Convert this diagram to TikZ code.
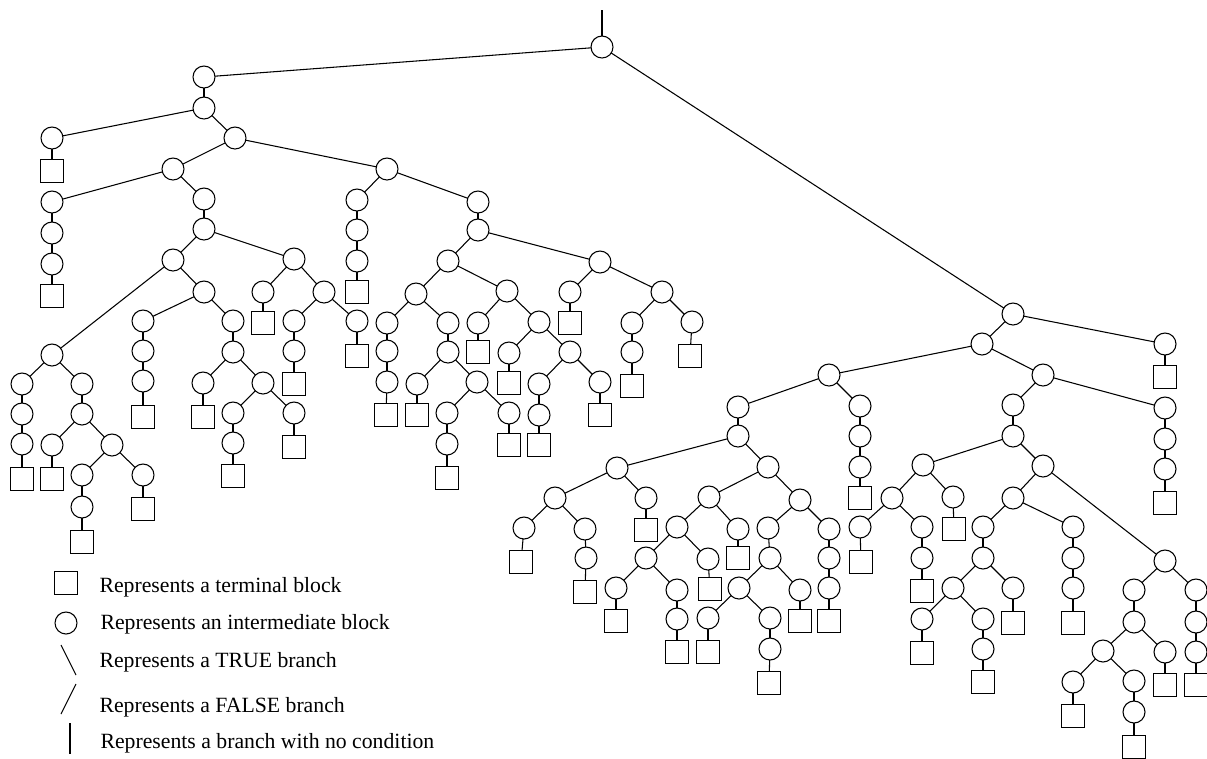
\documentclass[tikz,border=0pt]{standalone}
\usepackage{fontspec}
\setmainfont{Liberation Serif}
\usepackage{tikz}
\usetikzlibrary{positioning}

\begin{document}
\begin{tikzpicture}[
    x=0.75pt, y=-0.75pt,
    line width=0.8pt,
    inter/.style={circle, draw, minimum size=16.5pt, inner sep=0pt, outer sep=0pt},
    termbox/.style={rectangle, draw, minimum size=17.25pt, inner sep=0pt, outer sep=0pt},
    legendtext/.style={anchor=base west, inner sep=0pt, font=\fontsize{16.3pt}{19pt}\selectfont}
]
    \useasboundingbox (0,0) rectangle (1207,758);

    % Intermediate blocks (circles)
    \foreach \n/\x/\y in {
        b1/602/47, b2/204/77, b3/204/108, b4/52/138, b5/235/138, b6/173/169, b7/387/169,
        b8/52/202, b9/52/233, b10/52/264, b11/204/199, b12/204/229, b13/173/260, b14/294/259,
        b15/52/355, b16/204/292, b17/143/321, b18/143/351, b19/143/381, b20/233/321, b21/233/352,
        b22/203/383, b23/263/383, b24/233/413, b25/233/443, b26/294/413, b27/263/292, b28/324/292,
        b29/294/321, b30/294/351, b31/357/321, b32/22/384, b33/22/414, b34/22/444, b35/82/384,
        b36/82/414, b37/52/445, b38/112/445, b39/82/475, b40/82/507, b41/143/475,
        b42/357/200, b43/357/230, b44/357/261, b45/478/202, b46/478/230, b47/448/261, b48/600/262,
        b49/416/294, b50/507/291, b51/387/323, b52/387/351, b53/387/382, b54/448/323, b55/448/352,
        b56/417/384, b57/477/382, b58/447/413, b59/447/444, b60/509/413, b61/478/323, b62/539/322,
        b63/509/353, b64/570/352, b65/539/384, b66/539/415, b67/600/382, b68/570/292, b69/662/292,
        b70/632/323, b71/632/352, b72/692/322,
        b73/1013/314, b74/982/344, b75/1165/344, b76/829/375, b77/1043/375, b78/738/407,
        b79/860/406, b80/860/436, b81/860/467, b82/738/436, b83/617/468, b84/768/467, b85/555/498,
        b86/646/498, b87/524/528, b88/585/529, b89/586/558, b90/709/497, b91/800/500, b92/677/527,
        b93/738/529, b94/646/558, b95/708/559, b96/616/588, b97/677/590, b98/677/619, b99/768/528,
        b100/770/558, b101/739/588, b102/800/590, b103/708/618, b104/770/618, b105/770/649,
        b106/829/529, b107/829/558, b108/829/588, b109/1013/405, b110/1165/408, b111/1165/439,
        b112/1165/469, b113/1013/436, b114/923/465, b115/1043/466, b116/892/498, b117/953/497,
        b118/860/527, b119/922/527, b120/922/558, b121/1013/498, b122/1165/561, b123/983/527,
        b124/1073/527, b125/1073/558, b126/1073/588, b127/983/558, b128/953/588, b129/1013/588,
        b130/922/619, b131/983/619, b132/983/649, b133/1134/590, b134/1196/590, b135/1196/622,
        b136/1196/652, b137/1134/622, b138/1103/651, b139/1165/652, b140/1073/682, b141/1134/681,
        b142/1134/712}
        \node[inter] (\n) at (\x,\y) {};

    % Terminal blocks (squares)
    \foreach \n/\x/\y in {
        t1/52/171, t2/52/296, t3/143/417, t4/203/417, t5/233/476, t6/294/447, t7/263/323,
        t8/294/384, t9/357/356, t10/22/479, t11/52/479, t12/82/542, t13/143/509, t14/357/292,
        t15/386/415, t16/417/415, t17/447/478, t18/509/445, t19/478/352, t20/509/383, t21/539/445,
        t22/600/415, t23/570/323, t24/632/386, t25/690/356,
        t26/1165/377, t27/860/498, t28/646/530, t29/521/562, t30/585/592, t31/738/558, t32/710/589,
        t33/616/621, t34/677/652, t35/800/621, t36/708/652, t37/769/683, t38/829/621, t39/1165/503,
        t40/954/529, t41/861/562, t42/922/591, t43/1073/623, t44/1013/623, t45/922/653, t46/983/682,
        t47/1196/685, t48/1165/685, t49/1073/716, t50/1134/747}
        \node[termbox] (\n) at (\x,\y) {};

    % Entry branch
    \coordinate (entry) at (602,10);
    \draw (entry) -- (b1);

    % Branches
    \foreach \a/\b in {
        b1/b2, b1/b73, b2/b3, b3/b4, b4/t1, b3/b5, b5/b6, b5/b7,
        b6/b8, b8/b9, b9/b10, b10/t2, b6/b11, b11/b12, b12/b13, b12/b14,
        b13/b15, b13/b16, b16/b17, b17/b18, b18/b19, b19/t3, b16/b20, b20/b21, b21/b22, b22/t4,
        b21/b23, b23/b24, b24/b25, b25/t5, b23/b26, b26/t6,
        b14/b27, b27/t7, b14/b28, b28/b29, b29/b30, b30/t8, b28/b31, b31/t9,
        b15/b32, b32/b33, b33/b34, b34/t10, b15/b35, b35/b36, b36/b37, b37/t11, b36/b38,
        b38/b39, b39/b40, b40/t12, b38/b41, b41/t13,
        b7/b42, b42/b43, b43/b44, b44/t14, b7/b45, b45/b46, b46/b47, b46/b48,
        b47/b49, b47/b50, b49/b51, b51/b52, b52/b53, b53/t15, b49/b54, b54/b55, b55/b56, b56/t16,
        b55/b57, b57/b58, b58/b59, b59/t17, b57/b60, b60/t18,
        b50/b61, b61/t19, b50/b62, b62/b63, b63/t20, b62/b64, b64/b65, b65/b66, b66/t21,
        b64/b67, b67/t22, b48/b68, b68/t23, b48/b69, b69/b70, b70/b71, b71/t24, b69/b72, b72/t25,
        b73/b74, b73/b75, b75/t26, b74/b76, b74/b77,
        b76/b78, b76/b79, b79/b80, b80/b81, b81/t27,
        b78/b82, b82/b83, b82/b84, b83/b85, b83/b86, b86/t28, b85/b87, b87/t29, b85/b88,
        b88/b89, b89/t30,
        b84/b90, b84/b91, b90/b92, b90/b93, b93/t31, b92/b94, b92/b95, b95/t32, b94/b96, b96/t33,
        b94/b97, b97/b98, b98/t34,
        b91/b99, b99/b100, b100/b101, b100/b102, b102/t35, b101/b103, b103/t36, b101/b104,
        b104/b105, b105/t37, b91/b106, b106/b107, b107/b108, b108/t38,
        b77/b109, b77/b110, b110/b111, b111/b112, b112/t39, b109/b113, b113/b114, b113/b115,
        b114/b116, b114/b117, b117/t40, b116/b118, b118/t41, b116/b119, b119/b120, b120/t42,
        b115/b121, b115/b122, b121/b123, b121/b124, b124/b125, b125/b126, b126/t43,
        b123/b127, b127/b128, b127/b129, b129/t44, b128/b130, b130/t45, b128/b131, b131/b132,
        b132/t46,
        b122/b133, b122/b134, b134/b135, b135/b136, b136/t47, b133/b137, b137/b138, b137/b139,
        b139/t48, b138/b140, b140/t49, b138/b141, b141/b142, b142/t50}
        \draw (\a) -- (\b);

    % Legend
    \node[termbox] (keyterm) at (66,583) {};
    \node[inter] (keyinter) at (66,623) {};
    \coordinate (truetop) at (61,645);
    \coordinate (truebot) at (76,675);
    \coordinate (falsetop) at (76,684);
    \coordinate (falsebot) at (61,714);
    \coordinate (plaintop) at (70,723);
    \coordinate (plainbot) at (70,754);
    \draw (truetop) -- (truebot);
    \draw (falsetop) -- (falsebot);
    \draw (plaintop) -- (plainbot);

    \node[legendtext] (keytermtext) at (99,592) {Represents a terminal block};
    \node[legendtext] (keyintertext) at (100,629) {Represents an intermediate block};
    \node[legendtext] (keytruetext) at (99,667) {Represents a TRUE branch};
    \node[legendtext] (keyfalsetext) at (99,712) {Represents a FALSE branch};
    \node[legendtext] (keyplaintext) at (100,748) {Represents a branch with no condition};
\end{tikzpicture}
\end{document}
